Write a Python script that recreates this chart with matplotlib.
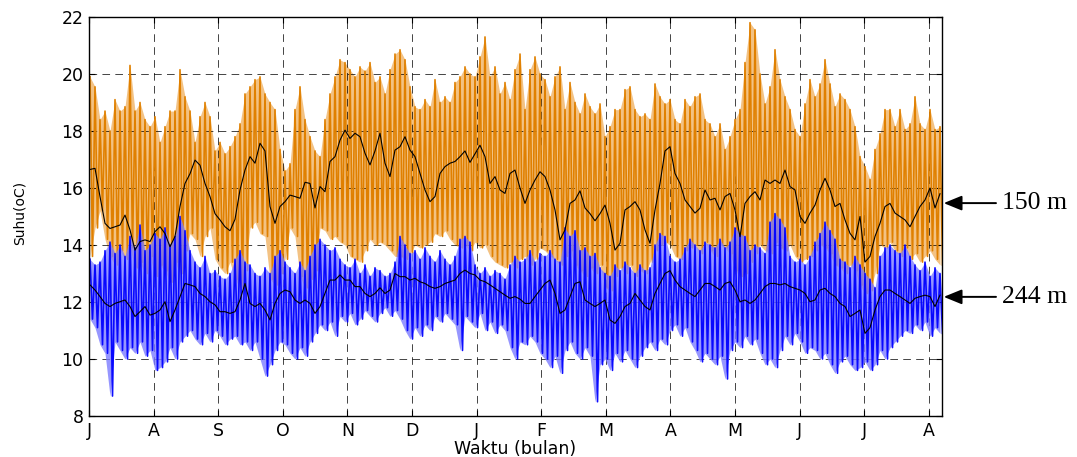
import numpy as np
import matplotlib
matplotlib.use("Agg")
import matplotlib.pyplot as plt

# ---------------- data (5-px sampling) ----------------
month_labels = ["J", "A", "S", "O", "N", "D", "J", "F", "M", "A", "M", "J", "J", "A"]
y_ticks = [8, 10, 12, 14, 16, 18, 20, 22]

# 150 m : running mean (black), upper and lower extremes of the oscillation
mean_150 = [16.65, 16.69, 15.7, 14.76, 14.58, 14.64, 14.7, 15.05, 14.53, 13.82, 14.12, 14.18, 14.12, 14.47, 14.64, 14.4, 13.94, 14.3, 15.35, 16.16, 16.5, 16.98, 16.8, 16.16, 15.7, 15.1, 14.88, 14.64, 14.5,
            14.9, 15.93, 16.63, 17.1, 16.87, 17.57, 17.3, 15.35, 14.76, 15.35, 15.52, 15.75, 15.7, 15.64, 16.2, 16.16, 15.3, 16.05, 15.87, 16.93, 17.1, 17.68, 18.03, 17.74, 17.92, 17.8, 17.22, 16.81, 17.3,
            17.92, 16.87, 16.4, 17.33, 17.45, 17.8, 17.33, 17.1, 16.51, 15.93, 15.52, 15.7, 16.51, 16.75, 16.87, 16.93, 17.1, 17.3, 16.9, 17.2, 17.5, 17.1, 16.16, 16.4, 15.93, 15.81, 16.51, 16.63, 16.0,
            15.46, 15.93, 16.28, 16.57, 16.4, 15.93, 15.23, 14.18, 14.53, 15.46, 15.58, 15.9, 15.3, 15.1, 14.85, 15.1, 15.4, 14.76, 13.82, 14.06, 15.23, 15.35, 15.52, 15.23, 14.53, 14.06, 15.23, 16.16, 17.3,
            17.45, 16.51, 16.16, 15.58, 15.35, 15.12, 15.29, 15.93, 15.58, 15.64, 15.23, 15.7, 15.81, 15.23, 14.29, 15.46, 15.7, 15.87, 15.58, 16.28, 16.16, 16.28, 16.16, 16.63, 16.05, 15.93, 15.0, 14.76, 15.12,
            15.4, 15.93, 16.34, 15.93, 15.35, 15.46, 14.88, 14.41, 14.18, 15.0, 13.4, 13.6, 14.3, 14.76, 15.35, 15.46, 15.12, 15.0, 14.88, 14.64, 15.0, 15.35, 15.58, 16.0, 15.3, 15.8]

high_150 = [19.9, 19.55, 18.4, 18.7, 18.0, 19.1, 18.7, 18.85, 20.3, 18.7, 19.0, 18.4, 18.15, 18.5, 17.6, 18.15, 18.7, 18.7, 20.15, 19.2, 18.7, 17.6, 18.5, 19.0, 18.5, 17.3, 17.6, 17.2, 17.45,
            17.8, 18.25, 19.3, 19.55, 19.8, 19.9, 19.3, 19.0, 18.75, 17.35, 16.6, 16.85, 18.75, 19.55, 18.4, 17.8, 17.3, 17.1, 18.4, 19.3, 19.9, 20.5, 20.4, 20.15, 19.9, 20.25, 20.1, 20.4, 19.7,
            19.9, 19.3, 20.15, 20.7, 20.85, 20.5, 19.55, 18.85, 18.75, 19.1, 18.85, 19.8, 19.0, 19.2, 19.0, 19.7, 19.9, 20.25, 20.0, 19.9, 20.6, 21.3, 19.9, 20.25, 19.3, 19.7, 19.1, 20.15, 20.7,
            18.75, 20.15, 20.6, 20.0, 19.8, 19.2, 19.9, 20.25, 18.75, 19.7, 19.0, 18.6, 19.3, 18.85, 18.6, 18.95, 17.8, 18.15, 18.75, 18.75, 19.45, 19.55, 18.75, 18.5, 18.6, 18.4, 19.65, 19.2, 18.95,
            19.1, 18.4, 18.25, 19.1, 18.85, 19.2, 19.3, 18.4, 18.25, 17.8, 18.25, 17.35, 17.8, 18.4, 18.75, 20.4, 21.8, 21.55, 20.0, 18.95, 19.55, 20.85, 19.8, 19.2, 18.75, 18.05, 17.8, 18.95, 19.8,
            19.2, 19.65, 20.5, 19.65, 18.85, 19.3, 19.1, 18.75, 18.15, 17.1, 16.75, 16.3, 17.35, 17.9, 18.75, 18.75, 18.15, 18.75, 18.05, 18.25, 19.2, 18.25, 18.05, 18.75, 18.05, 18.15]

low_150 = [13.6, 14.6, 15.2, 14.2, 13.6, 13.3, 13.8, 13.5, 13.9, 13.2, 13.4, 13.0, 13.6, 12.9, 13.3, 13.1, 12.7, 13.4, 13.0, 13.8, 14.4, 14.2, 13.6, 14.3, 14.6, 13.5, 13.2, 13.0, 13.4,
           12.8, 12.5, 13.1, 14.6, 14.8, 14.4, 14.3, 12.8, 12.6, 13.0, 13.5, 14.6, 14.3, 12.9, 12.5, 12.8, 13.1, 14.6, 14.5, 14.2, 14.3, 14.1, 14.0, 13.6, 13.5, 13.4, 13.8, 14.2, 14.0,
           14.1, 14.0, 13.8, 13.6, 13.6, 13.5, 13.7, 14.0, 13.9, 14.0, 14.1, 14.4, 14.3, 14.5, 14.2, 14.0, 13.9, 14.0, 13.8, 14.1, 13.9, 14.0, 13.6, 13.4, 13.3, 13.2, 13.4, 13.2, 13.5,
           13.6, 13.3, 13.5, 13.9, 13.8, 13.6, 13.5, 13.3, 13.6, 13.8, 13.3, 13.1, 12.9, 13.2, 13.0, 13.3, 12.5, 12.4, 12.9, 13.2, 13.0, 13.3, 12.9, 13.1, 13.0, 13.4, 13.8, 14.0, 14.1,
           14.0, 13.6, 13.5, 13.8, 13.9, 14.0, 13.7, 14.1, 13.8, 13.6, 14.0, 13.9, 13.7, 13.1, 12.9, 13.0, 13.4, 13.7, 14.0, 13.8, 13.7, 14.1, 13.9, 13.8, 14.0, 13.6, 13.4, 13.5, 13.6,
           13.8, 14.0, 13.9, 13.7, 13.3, 13.2, 13.0, 13.3, 13.1, 12.6, 12.3, 12.4, 13.0, 14.0, 13.9, 14.1, 13.8, 13.6, 13.9, 13.5, 13.7, 13.4, 13.6, 13.8, 13.5, 13.3]

# 244 m
mean_244 = [12.6, 12.42, 12.19, 11.95, 11.84, 11.95, 12.01, 12.07, 11.84, 11.49, 11.66, 11.84, 11.54, 11.6, 11.72, 12.01, 11.31, 11.72, 12.19, 12.65, 12.6, 12.54, 12.3, 12.19, 12.01, 11.9, 11.66, 11.66, 11.6,
            11.66, 12.07, 12.65, 11.95, 11.84, 11.95, 11.72, 11.37, 11.95, 12.3, 12.42, 12.36, 12.07, 11.95, 12.07, 11.95, 11.6, 11.84, 12.3, 12.77, 12.77, 12.95, 12.77, 12.77, 12.54, 12.54, 12.3, 12.19, 12.3,
            12.5, 12.3, 12.42, 13.0, 12.89, 12.89, 12.77, 12.83, 12.71, 12.65, 12.54, 12.48, 12.54, 12.65, 12.71, 12.77, 13.0, 13.12, 13.0, 12.95, 12.77, 12.71, 12.6, 12.48, 12.36, 12.24, 12.13, 12.19, 12.1,
            11.95, 11.95, 12.19, 12.42, 12.65, 12.77, 12.3, 11.6, 11.72, 12.19, 12.65, 12.71, 12.07, 11.95, 11.84, 11.95, 12.07, 11.37, 11.25, 11.49, 11.84, 11.95, 12.3, 12.07, 11.84, 11.72, 12.3, 12.65, 13.0,
            13.1, 12.77, 12.54, 12.42, 12.3, 12.19, 12.42, 12.65, 12.65, 12.54, 12.42, 12.65, 12.71, 12.42, 12.01, 12.07, 11.95, 12.07, 12.3, 12.54, 12.65, 12.65, 12.6, 12.65, 12.54, 12.48, 12.42, 12.3, 12.01,
            12.07, 12.42, 12.48, 12.3, 12.19, 11.95, 11.84, 11.49, 11.6, 11.72, 10.9, 11.1, 11.72, 12.19, 12.42, 12.42, 12.3, 12.19, 12.07, 11.95, 12.13, 12.19, 12.24, 12.19, 11.84, 12.24]

high_244 = [13.5, 13.3, 13.4, 13.8, 14.1, 13.7, 14.0, 13.6, 14.3, 13.9, 14.7, 13.8, 14.0, 14.4, 14.2, 14.6, 14.0, 14.3, 15.0, 14.5, 13.8, 13.4, 13.2, 13.6, 13.0, 13.1, 12.9, 12.8, 13.0,
            13.5, 13.8, 13.4, 13.3, 13.0, 12.9, 13.2, 13.0, 13.6, 13.8, 13.4, 13.2, 13.0, 13.4, 13.1, 13.6, 14.0, 14.2, 14.0, 13.8, 13.9, 13.5, 13.3, 13.2, 13.5, 13.0, 13.3, 12.9, 13.2,
            13.1, 12.9, 13.0, 13.4, 14.3, 14.0, 13.7, 13.8, 13.5, 13.9, 13.6, 13.4, 13.8, 13.5, 13.3, 13.6, 14.2, 14.3, 14.1, 13.3, 13.0, 13.2, 12.9, 13.1, 13.0, 12.8, 13.3, 13.6, 13.4,
            13.5, 13.8, 13.4, 13.7, 13.6, 13.8, 13.5, 13.4, 14.6, 14.3, 14.5, 13.8, 13.9, 13.6, 13.7, 13.2, 13.0, 12.9, 13.3, 13.1, 13.4, 13.2, 13.0, 13.3, 13.1, 13.2, 14.0, 14.4, 14.3,
            13.6, 13.4, 13.5, 13.9, 14.2, 14.0, 13.8, 14.1, 14.0, 13.9, 14.2, 13.9, 14.1, 14.6, 14.4, 14.3, 13.8, 14.0, 13.9, 13.7, 14.8, 15.1, 14.9, 14.6, 13.6, 13.4, 13.5, 13.3, 13.6,
            14.1, 14.4, 14.8, 14.5, 14.2, 13.5, 13.4, 13.2, 13.6, 13.3, 13.0, 12.8, 12.5, 13.6, 13.9, 14.0, 13.8, 13.7, 14.0, 13.6, 13.3, 13.1, 13.4, 12.9, 13.2, 13.0]

low_244 = [11.4, 11.1, 10.5, 10.2, 8.7, 10.6, 10.3, 10.0, 10.4, 10.2, 10.6, 10.1, 10.3, 9.6, 9.7, 9.9, 10.4, 10.0, 10.6, 10.8, 11.0, 10.7, 10.5, 10.9, 10.6, 11.0, 10.8, 10.5, 10.7,
           10.8, 10.5, 10.6, 10.3, 10.6, 10.0, 9.4, 9.8, 10.3, 10.6, 10.5, 10.2, 10.0, 10.4, 10.1, 10.6, 10.9, 11.2, 11.0, 11.3, 10.8, 11.5, 11.3, 11.6, 11.2, 11.4, 11.7, 11.5, 11.3,
           11.6, 11.8, 11.5, 11.7, 11.4, 11.0, 10.7, 11.1, 10.8, 11.2, 11.0, 11.5, 11.3, 11.6, 11.4, 11.2, 10.3, 11.5, 11.3, 11.1, 11.6, 11.0, 11.3, 10.9, 11.2, 11.0, 10.4, 10.0, 10.6,
           10.5, 10.8, 10.6, 10.2, 10.0, 9.7, 10.1, 9.5, 10.3, 10.6, 10.2, 10.0, 10.4, 10.1, 8.5, 9.8, 10.0, 9.6, 10.2, 9.9, 10.3, 10.0, 9.7, 10.1, 10.4, 10.6, 10.3, 10.7, 10.5,
           11.0, 11.2, 10.8, 11.1, 10.6, 10.3, 9.9, 10.2, 10.0, 9.8, 10.1, 9.3, 10.3, 10.6, 10.4, 10.8, 10.5, 10.7, 10.2, 9.8, 10.0, 9.7, 10.3, 10.8, 10.5, 10.9, 10.6, 10.2, 10.4,
           10.3, 10.0, 10.2, 9.8, 9.5, 9.9, 10.1, 9.8, 9.6, 9.7, 9.9, 9.6, 9.8, 10.3, 10.0, 10.4, 10.6, 10.8, 11.0, 10.9, 11.2, 11.0, 11.3, 10.8, 11.1, 10.9]

labels_right = ["150 m", "244 m"]
label_levels = [15.47, 12.18]

# ---------------- figure ----------------
W, H = 1077, 457
fig = plt.figure(figsize=(W / 100, H / 100), dpi=100)
plt.rcParams["lines.scale_dashes"] = False
ax = fig.add_axes([89 / W, 1 - 416 / H, (942 - 89) / W, (416 - 17) / H])

n = len(mean_150)
step = 5 / 64.6                      # months per sample
t = 1 / 64.6 + step * np.arange(n)   # time axis in months from 1 July


def zigzag(hi, lo):
    xs = np.column_stack((t, t + step / 2)).ravel()
    ys = np.column_stack((np.asarray(hi), np.asarray(lo))).ravel()
    return xs, ys


xo, yo = zigzag(high_150, low_150)
xb, yb = zigzag(high_244, low_244)

ax.fill_between(t, low_150, high_150, color="#F3C283", lw=0, zorder=1)
ax.plot(xo, yo, color="#E08000", lw=1.2, zorder=2)
ax.fill_between(t, low_244, high_244, color="#7C7CFF", lw=0, alpha=0.8, zorder=2.5)
ax.plot(xb, yb, color="#0000FF", lw=1.2, alpha=0.95, zorder=3)
ax.plot(t, mean_150, color="black", lw=0.8, zorder=4)
ax.plot(t, mean_244, color="black", lw=0.8, zorder=4)

ax.set_xlim(0, (942 - 89) / 64.6)
ax.set_ylim(8, 22)
ax.set_xticks(np.arange(len(month_labels)))
ax.set_xticklabels(month_labels)
ax.set_yticks(y_ticks)

ax.grid(True, color="black", linestyle=(0, (5.5, 3.8)), linewidth=0.6, alpha=0.85)
for gl in ax.get_xgridlines() + ax.get_ygridlines():
    gl.set_zorder(5)

ax.tick_params(direction="in", length=4, width=0.8, top=True, right=True,
               labelsize=12.5, pad=4)
for lab in ax.get_xticklabels() + ax.get_yticklabels():
    lab.set_family("DejaVu Sans")
for sp in ax.spines.values():
    sp.set_linewidth(1.0)
    sp.set_zorder(6)

ax.set_xlabel("Waktu (bulan)", fontsize=12.5, family="DejaVu Sans", labelpad=0)
fig.text(20 / W, 1 - 213 / H, "Suhu(oC)", rotation=90, ha="center", va="center",
         fontsize=10, family="DejaVu Sans")

for lab, lev in zip(labels_right, label_levels):
    ax.annotate("", xy=(1.002, lev), xycoords=("axes fraction", "data"),
                xytext=((996 - 89) / (942 - 89), lev), textcoords=("axes fraction", "data"),
                arrowprops=dict(arrowstyle="-|>,head_length=1.1,head_width=0.45",
                                color="black", lw=1.4, shrinkA=0, shrinkB=0),
                annotation_clip=False)
    ax.text((1002 - 89) / (942 - 89), lev, lab, transform=ax.get_yaxis_transform(),
            ha="left", va="center", fontsize=18.5, family="Liberation Serif", clip_on=False)

fig.savefig("out.png", dpi=100)
